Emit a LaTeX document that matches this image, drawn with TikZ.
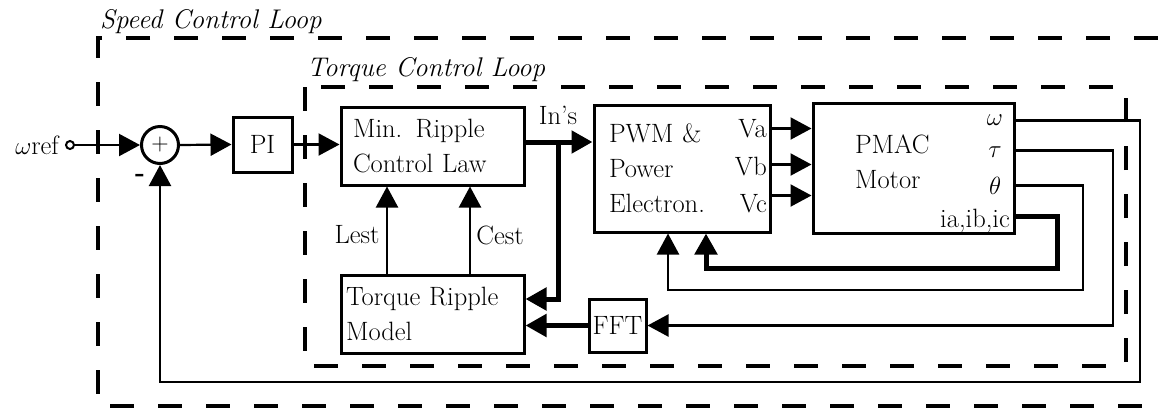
\documentclass[tikz,border=0pt]{standalone}
\usepackage{amssymb}
\usepackage{amsmath}
\usepackage{tikz}
\usetikzlibrary{shapes,arrows.meta,positioning,calc}

\begin{document}
\begin{tikzpicture}[x=1pt,y=-1pt,
  font=\fontsize{26.5}{35}\selectfont,
  blk/.style={draw,line width=3pt,inner sep=0pt},
  arr/.style={line width=2.2pt,-{Triangle[length=21pt,width=22pt]}},
  thkarr/.style={line width=5pt,-{Triangle[length=21pt,width=22pt]}},
  loopbox/.style={line width=3.5pt,dash pattern=on 24pt off 24pt},
  ttl/.style={anchor=base west,inner sep=0pt,font=\fontsize{27}{30}\selectfont\itshape}]
\useasboundingbox (0,0) rectangle (1158,408);

% Loops
\draw[loopbox] (1158,38) -- (98,38) -- (98,406) -- (1158,406);
\draw[loopbox] (305,87) rectangle (1126,366);
\node[ttl] (speedttl) at (100,28) {Speed Control Loop};
\node[ttl] (torquettl) at (307,76) {Torque Control Loop};

% Input and summing junction
\node[circle,draw,line width=2pt,inner sep=0pt,minimum size=8pt] (wref) at (70,145) {};
\node[anchor=east,inner sep=6pt] (wreflbl) at (wref.west) {$\omega$ref};
\node[circle,draw,line width=3pt,inner sep=0pt,minimum size=37pt,font=\fontsize{24}{24}\selectfont] (sum) at (160,145) {+};
\node (minus) at (140,178) {\textbf{-}};

% Blocks
\node[blk,minimum width=59pt,minimum height=55pt] (pi) at (262.5,144.5) {PI};
\node[blk,minimum width=183pt,minimum height=78pt,inner xsep=12pt,text width=159pt,align=left] (mrc) at (432.5,146) {Min. Ripple\\Control Law};
\node[blk,minimum width=183pt,minimum height=78pt,inner xsep=5pt,text width=173pt,align=left] (trm) at (432.5,314) {Torque Ripple\\Model};
\node[blk,minimum width=176pt,minimum height=127pt,inner xsep=15pt,text width=146pt,align=left] (pwm) at (682,168.5) {PWM \&\\Power\\Electron.};
\node[blk,minimum width=201pt,minimum height=130pt,inner xsep=42pt,text width=117pt,align=left,text depth=47pt] (pmac) at (913.5,168) {PMAC\\Motor};
\node[blk,minimum width=57pt,minimum height=53pt] (fft) at (617.5,325.5) {FFT};

% Port labels
\node[anchor=base east,inner sep=1pt] (va) at (768,137) {Va};
\node[anchor=base east,inner sep=1pt] (vb) at (768,175) {Vb};
\node[anchor=base east,inner sep=1pt] (vc) at (768,212) {Vc};
\node (om) at (995,120) {$\omega$};
\node (tau) at (995,152) {$\tau$};
\node (th) at (995,186) {$\theta$};
\node[anchor=base east,inner sep=2pt] (iabc) at (1012,227) {ia,ib,ic};
\node (inslbl) at (558,115) {In's};
\node (lest) at (357,235) {Lest};
\node (cest) at (500,235) {Cest};

% Forward path
\draw[arr] (wref.east) -- (sum.west);
\draw[arr] (sum.east) -- (pi.west);
\draw[arr] (pi.east) -- (pi.east -| mrc.west);
\coordinate (ins) at ($(mrc.east)+(33,-4)$);
\draw[thkarr] (mrc.east |- ins) -- (ins -| pwm.west);
\draw[thkarr] (ins) |- ([yshift=15pt]trm.east);
\draw[thkarr] (fft.west) -- (fft.west -| trm.east);
\draw[arr] ([xshift=-45.5pt]trm.north) -- ([xshift=-45.5pt]mrc.south);
\draw[arr] ([xshift=37.5pt]trm.north) -- ([xshift=37.5pt]mrc.south);

% Phase voltages
\draw[arr] ($(pwm.north east)+(0,25)$) -- ($(pmac.west |- pwm.north east)+(0,25)$);
\draw[arr] ($(pwm.north east)+(0,61)$) -- ($(pmac.west |- pwm.north east)+(0,61)$);
\draw[arr] ($(pwm.north east)+(0,92)$) -- ($(pmac.west |- pwm.north east)+(0,92)$);

% Feedback paths
\coordinate (tauc) at (1113,0);
\draw[arr] ($(pmac.north east)+(0,19)$) -| (1140,382) -| (sum.south);
\draw[arr] ($(pmac.north east)+(0,49)$) -| (tauc |- fft.east) -- (fft.east);
\draw[arr] ($(pmac.north east)+(0,84)$) -| (1083,290) -| ([xshift=-14pt]pwm.south);
\draw[thkarr] ($(pmac.north east)+(0,115)$) -| (1057,268) -| ([xshift=24pt]pwm.south);

\end{tikzpicture}
\end{document}
